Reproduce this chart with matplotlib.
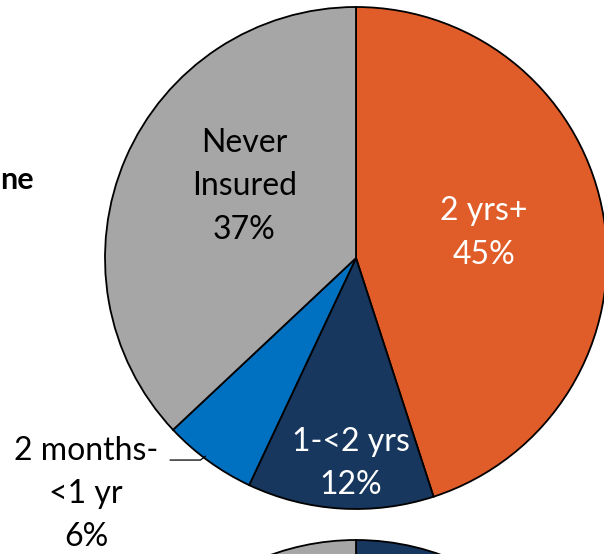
import matplotlib.pyplot as plt

# main pie: time without insurance
labels = ['2 yrs+\n45%', '1-<2 yrs\n12%', '', 'Never\nInsured\n37%']
values = [45, 12, 6, 37]
colors = ['#E05C28', '#17375E', '#0070C0', '#A6A6A6']
text_colors = ['white', 'white', 'black', 'black']
outside_label = '2 months-\n<1 yr\n6%'

# second pie (only its top edge shows in the crop)
values2 = [30, 10, 6, 54]
colors2 = ['#17375E', '#0070C0', '#E05C28', '#A6A6A6']

plt.rcParams['font.family'] = ['Lato', 'DejaVu Sans']

W, H = 604, 554
fig = plt.figure(figsize=(W / 100, H / 100), dpi=100)

def pie_axes(cx, cy, r):
    return fig.add_axes([(cx - r) / W, (H - cy - r) / H, 2 * r / W, 2 * r / H])

ax = pie_axes(356, 258, 251)
ax.pie(values, colors=colors, startangle=90, counterclock=False,
       wedgeprops=dict(edgecolor='black', linewidth=1.3))
ax.set_xlim(-1, 1)
ax.set_ylim(-1, 1)
ax.set_aspect('equal')
ax.axis('off')

pos = [(0.51, 0.10), (-0.02, -0.82), None, (-0.445, 0.285)]
for lab, p, c in zip(labels, pos, text_colors):
    if p is None:
        continue
    ax.text(p[0], p[1], lab, ha='center', va='center', color=c,
            fontsize=23, linespacing=1.55)

# outside label with leader line
ax.text(-1.075, -0.94, outside_label, ha='center', va='center',
        fontsize=23, linespacing=1.55, clip_on=False)
ax.plot([-0.74, -0.62, -0.60], [-0.805, -0.805, -0.79], color='black',
        lw=0.9, clip_on=False)

ax2 = pie_axes(356, 791, 251)
ax2.pie(values2, colors=colors2, startangle=90, counterclock=False,
        wedgeprops=dict(edgecolor='black', linewidth=1.3))
ax2.set_xlim(-1, 1)
ax2.set_ylim(-1, 1)
ax2.set_aspect('equal')
ax2.axis('off')

# visible tail of the title, cut off at the left edge
fig.text(0, 1 - 180 / H, 'ne', ha='left', va='center',
         fontsize=22, fontweight='bold')

fig.savefig('out.png', dpi=100)
